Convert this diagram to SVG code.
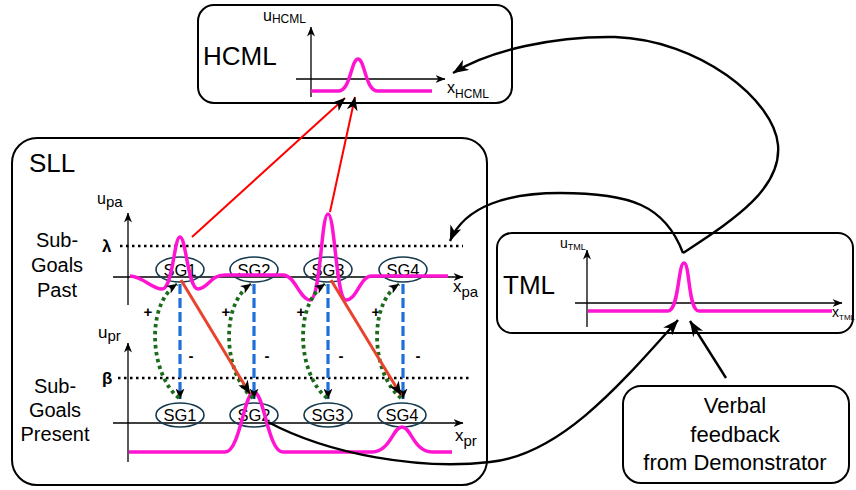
<svg xmlns="http://www.w3.org/2000/svg" width="856" height="490" viewBox="0 0 856 490">
<style>
text{font-family:"Liberation Sans",Arial,sans-serif;fill:#000}
.box{fill:none;stroke:#000;stroke-width:2}
.axis{fill:none;stroke:#000;stroke-width:1.3;marker-end:url(#axh)}
.mag{fill:none;stroke:#ff14d2;stroke-width:3.5;stroke-linejoin:round}
.sg{fill:none;stroke:#163a4e;stroke-width:1.6}
.sgt{font-size:16.5px;text-anchor:middle}
.big{font-size:26px}
.lab{font-size:20px;text-anchor:middle}
.thr{fill:none;stroke:#000;stroke-width:2.6;stroke-dasharray:2.5 3.5}
.blue{fill:none;stroke:#1e6fd9;stroke-width:3.2;stroke-dasharray:10 4;marker-end:url(#ahs)}
.green{fill:none;stroke:#1b6b1b;stroke-width:3.8;stroke-dasharray:3.5 3.5;marker-end:url(#ahs)}
.redt{fill:none;stroke:#e8432d;stroke-width:3;marker-end:url(#ahm)}
.redn{fill:none;stroke:#ff0000;stroke-width:2;marker-end:url(#ahm)}
.conn{fill:none;stroke:#000;stroke-width:2.4;marker-end:url(#ahb)}
.pm{font-size:15px;font-weight:bold;text-anchor:middle}
</style>
<defs>
<marker id="axh" markerUnits="userSpaceOnUse" viewBox="0 0 10 8" refX="9.5" refY="4" markerWidth="10" markerHeight="8" orient="auto"><path d="M0,0 L10,4 L0,8 L3,4 z" fill="#000"/></marker>
<marker id="ahs" markerUnits="userSpaceOnUse" viewBox="0 0 11 9" refX="10.5" refY="4.5" markerWidth="11" markerHeight="9" orient="auto"><path d="M0,0 L11,4.5 L0,9 L3,4.5 z" fill="#000"/></marker>
<marker id="ahm" markerUnits="userSpaceOnUse" viewBox="0 0 14 11" refX="13.5" refY="5.5" markerWidth="14" markerHeight="11" orient="auto"><path d="M0,0 L14,5.5 L0,11 L4,5.5 z" fill="#000"/></marker>
<marker id="ahb" markerUnits="userSpaceOnUse" viewBox="0 0 16 12" refX="15.5" refY="6" markerWidth="16" markerHeight="12" orient="auto"><path d="M0,0 L16,6 L0,12 L4.5,6 z" fill="#000"/></marker>
</defs>
<rect width="856" height="490" fill="#fff"/>

<g id="HCML">
<rect class="box" x="198" y="5" width="314" height="98" rx="16"/>
<text class="big" x="203" y="65">HCML</text>
<path class="axis" d="M311,97 L311,27"/>
<path class="axis" d="M296,79 L445,79"/>
<text x="263" y="21" style="font-size:16px">u<tspan dy="2" style="font-size:12px">HCML</tspan></text>
<text x="447" y="93" style="font-size:16px">x<tspan dy="5" style="font-size:12px">HCML</tspan></text>
<path class="mag" d="M311,91 L338,91 C351,91 351,59 358,59 C365,59 365,91 378,91 L432,91"/>
</g>

<g id="SLL">
<rect class="box" x="12" y="138" width="475" height="347" rx="25"/>
<text class="big" x="29" y="172">SLL</text>
<text class="lab" x="57" y="247">Sub-</text>
<text class="lab" x="57" y="272">Goals</text>
<text class="lab" x="57" y="297">Past</text>
<text class="lab" x="55" y="393">Sub-</text>
<text class="lab" x="55" y="417">Goals</text>
<text class="lab" x="55" y="441">Present</text>
<path class="axis" d="M128,305 L128,213"/>
<path class="axis" d="M113,277 L463,277"/>
<path class="axis" d="M128,462 L128,343"/>
<path class="axis" d="M113,423 L463,423"/>
<text x="97" y="204" style="font-size:16px">u<tspan dy="3" style="font-size:15px">pa</tspan></text>
<text x="453" y="292" style="font-size:17px">x<tspan dy="5" style="font-size:15px">pa</tspan></text>
<text x="98" y="338" style="font-size:17px">u<tspan dy="3" style="font-size:15px">pr</tspan></text>
<text x="455" y="441" style="font-size:17px">x<tspan dy="5" style="font-size:15px">pr</tspan></text>
<text x="102" y="252" style="font-size:17px;font-weight:bold">λ</text>
<text x="102" y="384" style="font-size:17px;font-weight:bold">β</text>
<path class="thr" d="M120,246 L463,246"/>
<path class="thr" d="M118,378 L470,378"/>
<g id="SGpa1"><ellipse class="sg" cx="180" cy="269.5" rx="24" ry="12.5"/><text class="sgt" x="180" y="275.5">SG1</text></g>
<g id="SGpa2"><ellipse class="sg" cx="254" cy="269.5" rx="24" ry="12.5"/><text class="sgt" x="254" y="275.5">SG2</text></g>
<g id="SGpa3"><ellipse class="sg" cx="328" cy="269.5" rx="24" ry="12.5"/><text class="sgt" x="328" y="275.5">SG3</text></g>
<g id="SGpa4"><ellipse class="sg" cx="403" cy="269.5" rx="24" ry="12.5"/><text class="sgt" x="403" y="275.5">SG4</text></g>
<g id="SGpr1"><ellipse class="sg" cx="180" cy="415" rx="24" ry="12"/><text class="sgt" x="180" y="421">SG1</text></g>
<g id="SGpr2"><ellipse class="sg" cx="254" cy="415" rx="24" ry="12"/><text class="sgt" x="254" y="421">SG2</text></g>
<g id="SGpr3"><ellipse class="sg" cx="328" cy="415" rx="24" ry="12"/><text class="sgt" x="328" y="421">SG3</text></g>
<g id="SGpr4"><ellipse class="sg" cx="402" cy="415" rx="24" ry="12"/><text class="sgt" x="402" y="421">SG4</text></g>
<path class="mag" d="M130,276 C142,276 152,289 162,289 C173,289 174,237 180,237 C186,237 188,289 198,289 C208,289 210,275 225,275 L283,275 C295,275 300,300 310,300 C321,300 321,214 328,214 C335,214 336,300 346,300 C357,300 360,276 372,276 L448,276"/>
<path class="mag" d="M129,452 L225,452 C240,452 244,392 254,392 C264,392 268,452 283,452 L372,452 C390,452 393,427 402,427 C411,427 414,452 432,452 L452,452"/>
<text class="pm" x="148" y="317">+</text>
<text class="pm" x="226" y="317">+</text>
<text class="pm" x="301" y="317">+</text>
<text class="pm" x="376" y="317">+</text>
<text class="pm" x="191" y="361">-</text>
<text class="pm" x="267" y="361">-</text>
<text class="pm" x="341" y="361">-</text>
<text class="pm" x="418" y="361">-</text>
</g>

<g id="TML">
<rect class="box" x="497" y="233" width="356" height="100" rx="15"/>
<text class="big" x="503" y="294">TML</text>
<path class="axis" d="M587,327 L587,250"/>
<path class="axis" d="M575,303 L842,303"/>
<text x="560" y="248" style="font-size:14px">u<tspan dy="2" style="font-size:9px">TML</tspan></text>
<text x="832" y="317" style="font-size:14px">x<tspan dy="3" style="font-size:8px">TML</tspan></text>
<path class="mag" d="M588,311 L668,311 C679,311 678,263 684,263 C690,263 688,311 699,311 L832,311"/>
</g>

<g id="Verbal">
<rect class="box" x="623" y="386" width="226" height="97" rx="18"/>
<text class="lab" x="735" y="413" style="font-size:22px">Verbal</text>
<text class="lab" x="735" y="442" style="font-size:22px">feedback</text>
<text class="lab" x="735" y="470" style="font-size:22px">from Demonstrator</text>
</g>

<g id="connectors">
<path class="blue" d="M180,284 L180,399"/>
<path class="blue" d="M254,284 L254,399"/>
<path class="blue" d="M328,284 L328,399"/>
<path class="blue" d="M403,284 L403,399"/>
<path class="green" d="M179,398 C150,375 145,305 177,284"/>
<path class="green" d="M253,398 C224,375 219,305 251,284"/>
<path class="green" d="M327,398 C298,375 293,305 325,284"/>
<path class="green" d="M401,398 C372,375 367,305 399,284"/>
<path class="redt" d="M181,280 L250,394"/>
<path class="redt" d="M331,280 L401,395"/>
<path class="redn" d="M192,237 L345,98"/>
<path class="redn" d="M330,212 L355,97"/>
<path class="conn" d="M683,253 C730,222 782,190 778,145 C774,100 700,40 615,37 C555,36 490,50 453,73"/>
<path class="conn" d="M683,253 C665,205 630,193 560,193 C510,193 465,205 450,241"/>
<path class="conn" d="M268,422 C330,455 420,470 490,462 C560,455 620,385 678,320"/>
<path class="conn" d="M726,378 L690,321"/>
</g>
</svg>
